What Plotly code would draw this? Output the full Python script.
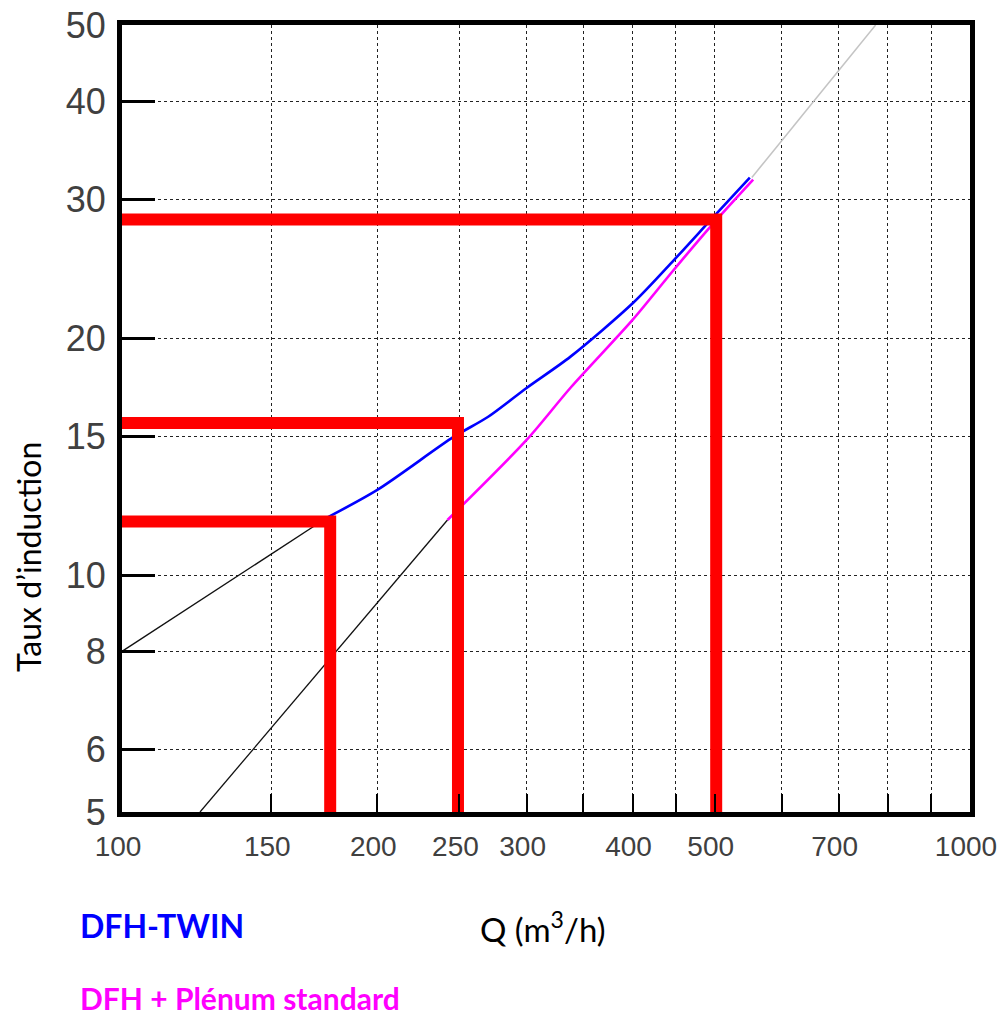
import plotly.graph_objects as go

# Axis ranges
Q_MIN, Q_MAX = 100, 1000
TAUX_MIN, TAUX_MAX = 5, 50

# Tick definitions
x_tickvals = [100, 150, 200, 250, 300, 400, 500, 700, 1000]
x_ticktext = ["100", "150", "200", "250", "300", "400", "500", "700", "1000"]
x_minor_vals = [350, 450, 600, 800, 900]
y_tickvals = [5, 6, 8, 10, 15, 20, 30, 40, 50]
y_ticktext = ["5", "6", "8", "10", "15", "20", "30", "40", "50"]

# DFH-TWIN (blue)
twin_q = [175, 200, 246, 270, 300, 338, 401, 447, 498, 550]
twin_taux = [11.85, 12.83, 14.98, 15.88, 17.29, 18.95, 22.2, 25.1, 28.5, 32.0]

# DFH + Plenum standard (magenta)
plen_q = [242, 300, 338, 400, 447, 494, 555]
plen_taux = [11.75, 14.85, 17.3, 21.1, 24.4, 27.7, 31.8]

# Black extension lines (below curves)
ext1_q = [100, 175]
ext1_taux = [8.0, 11.85]
ext2_q = [123.6, 242]
ext2_taux = [5.0, 11.75]

# Grey extension above curves
ext3_q = [553, 774]
ext3_taux = [32.0, 50.0]

# Red reading lines (operating points)
red_q = [176, 249, 502]
red_taux = [11.7, 15.6, 28.3]

fig = go.Figure()

fig.add_trace(go.Scatter(x=ext1_q, y=ext1_taux, mode="lines",
                         line=dict(color="#111111", width=1.3), showlegend=False))
fig.add_trace(go.Scatter(x=ext2_q, y=ext2_taux, mode="lines",
                         line=dict(color="#111111", width=1.3), showlegend=False))
fig.add_trace(go.Scatter(x=ext3_q, y=ext3_taux, mode="lines",
                         line=dict(color="#c4c4c4", width=1.5), showlegend=False))
fig.add_trace(go.Scatter(x=plen_q, y=plen_taux, mode="lines",
                         line=dict(color="#ff00ff", width=2.6, shape="spline", smoothing=0.8),
                         showlegend=False))
fig.add_trace(go.Scatter(x=twin_q, y=twin_taux, mode="lines",
                         line=dict(color="#0000ff", width=2.6, shape="spline", smoothing=0.8),
                         showlegend=False))

for q, t in zip(red_q, red_taux):
    fig.add_trace(go.Scatter(x=[Q_MIN, q, q], y=[t, t, TAUX_MIN], mode="lines",
                             line=dict(color="#ff0000", width=12),
                             showlegend=False, cliponaxis=False))

axis_font = dict(family="Liberation Sans, Arial, sans-serif", color="#404040")
grid_style = dict(showgrid=True, gridcolor="#222222", gridwidth=1.4, griddash="dot")

fig.update_xaxes(
    type="log", range=[2, 3],
    tickvals=x_tickvals, ticktext=x_ticktext, tickangle=0,
    tickfont=dict(size=28, **axis_font),
    ticks="inside", ticklen=18, tickwidth=2, tickcolor="black",
    minor=dict(tickvals=x_minor_vals, ticks="inside", ticklen=18, tickwidth=2,
               tickcolor="black", **grid_style),
    showline=True, linecolor="black", linewidth=5, mirror=True,
    zeroline=False, ticklabelstandoff=5, ticklabelshift=-4, automargin=False,
    ticklabeloverflow="allow",
    **grid_style,
)
fig.update_yaxes(
    type="log", range=[0.69897, 1.69897],
    tickvals=y_tickvals, ticktext=y_ticktext, tickangle=0,
    tickfont=dict(size=36, **axis_font),
    ticks="inside", ticklen=33, tickwidth=2.5, tickcolor="black",
    showline=True, linecolor="black", linewidth=5, mirror=True,
    zeroline=False, ticklabelstandoff=4, automargin=False,
    ticklabeloverflow="allow",
    **grid_style,
)

fig.update_layout(
    width=1003, height=1018,
    margin=dict(l=122, r=33, t=25, b=206, autoexpand=False),
    plot_bgcolor="white", paper_bgcolor="white",
    showlegend=False,
    annotations=[
        dict(text="Taux d’induction", textangle=-90, xref="paper", yref="paper",
             x=-0.111, y=0.324, xanchor="center", yanchor="middle", showarrow=False,
             font=dict(family="Lato, sans-serif", size=32, color="black")),
        dict(text="Q (m<sup>3</sup>/h)", xref="paper", yref="paper",
             x=0.4965, y=-0.146, xanchor="center", yanchor="middle", showarrow=False,
             font=dict(family="Lato, sans-serif", size=33, color="black")),
        dict(text="<b>DFH-TWIN</b>", xref="paper", yref="paper",
             x=-0.052, y=-0.1436, xanchor="left", yanchor="middle", showarrow=False,
             font=dict(family="Lato, sans-serif", size=32, color="#0000ff")),
        dict(text="<b>DFH + Plénum standard</b>", xref="paper", yref="paper",
             x=-0.052, y=-0.2364, xanchor="left", yanchor="middle", showarrow=False,
             font=dict(family="Lato, sans-serif", size=30, color="#ff00ff")),
    ],
)

fig.write_html("out.html", config={"displayModeBar": False},
               post_script="document.body.style.margin='0';document.body.style.overflow='hidden';")
